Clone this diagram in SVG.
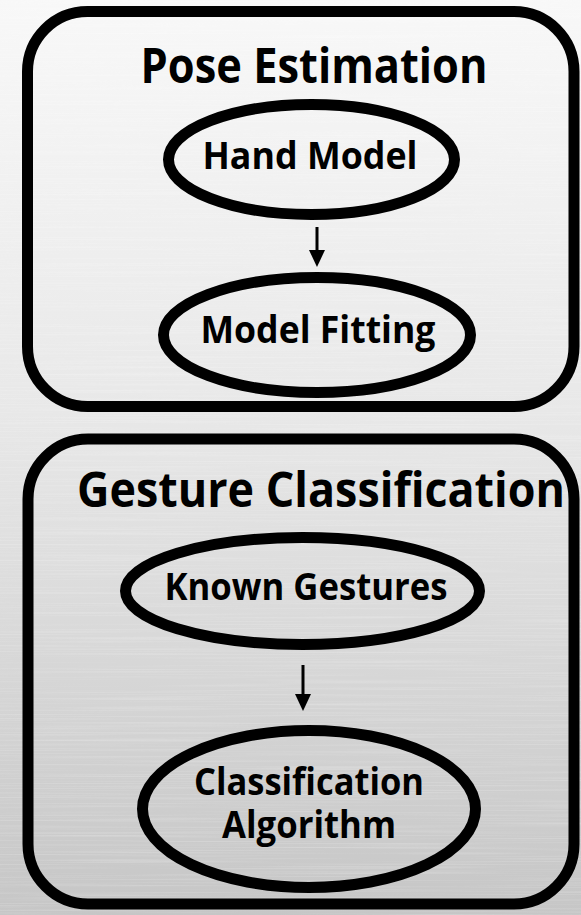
<svg xmlns="http://www.w3.org/2000/svg" width="581" height="915" viewBox="0 0 581 915">
  <defs>
    <linearGradient id="bg" x1="0" y1="0" x2="0" y2="1">
      <stop offset="0" stop-color="#f8f8f8"/>
      <stop offset="0.45" stop-color="#e8e8e8"/>
      <stop offset="1" stop-color="#c6c6c6"/>
    </linearGradient>
    <filter id="brush" x="0" y="0" width="100%" height="100%">
      <feTurbulence type="fractalNoise" baseFrequency="0.004 0.7" numOctaves="2" seed="3" result="n"/>
      <feColorMatrix type="matrix" values="0 0 0 0 1  0 0 0 0 1  0 0 0 0 1  0.9 0 0 0 -0.42"/>
    </filter>
    <style>
      .box { fill: none; stroke: #000; stroke-width: 11; }
      .node { fill: none; stroke: #000; stroke-width: 11; }
      .title { font-family: "Open Sans", "Liberation Sans", sans-serif; font-weight: 700; font-size: 49px; fill: #000; text-anchor: middle; }
      .label { font-family: "Open Sans", "Liberation Sans", sans-serif; font-weight: 700; font-size: 37px; fill: #000; text-anchor: middle; }
      .edge { stroke: #000; stroke-width: 3; fill: none; }
      .head { fill: #000; stroke: none; }
    </style>
  </defs>

  <rect x="0" y="0" width="581" height="915" fill="url(#bg)"/>
  <rect x="0" y="0" width="581" height="915" filter="url(#brush)" opacity="0.6"/>

  <g id="pose-estimation">
    <rect class="box" x="27.5" y="11.5" width="546.5" height="395" rx="60" ry="60"/>
    <text class="title" x="314" y="83" textLength="347" lengthAdjust="spacingAndGlyphs">Pose Estimation</text>
  </g>
  <g id="hand-model">
    <ellipse class="node" cx="311.5" cy="159.5" rx="143" ry="55"/>
    <text class="label" x="310" y="169" textLength="215" lengthAdjust="spacingAndGlyphs">Hand Model</text>
  </g>
  <g id="model-fitting">
    <ellipse class="node" cx="317" cy="335" rx="153.5" ry="57.5"/>
    <text class="label" x="318" y="343" textLength="235" lengthAdjust="spacingAndGlyphs">Model Fitting</text>
  </g>

  <g id="gesture-classification">
    <rect class="box" x="28" y="439" width="546" height="465" rx="60" ry="60"/>
    <text class="title" x="321" y="507" textLength="488" lengthAdjust="spacingAndGlyphs">Gesture Classification</text>
  </g>
  <g id="known-gestures">
    <ellipse class="node" cx="302.5" cy="591" rx="177" ry="53.5"/>
    <text class="label" x="306" y="600" textLength="283" lengthAdjust="spacingAndGlyphs">Known Gestures</text>
  </g>
  <g id="classification-algorithm">
    <ellipse class="node" cx="309" cy="809" rx="166.5" ry="78.5"/>
    <text class="label" x="309" y="795" textLength="230" lengthAdjust="spacingAndGlyphs">Classification</text>
    <text class="label" x="309" y="838" textLength="174" lengthAdjust="spacingAndGlyphs">Algorithm</text>
  </g>

  <g id="connectors">
    <line class="edge" x1="317" y1="227" x2="317" y2="252"/>
    <path class="head" d="M309,250 L325,250 L317,267 Z"/>
    <line class="edge" x1="303" y1="665" x2="303" y2="696"/>
    <path class="head" d="M295,694 L311,694 L303,711 Z"/>
  </g>
</svg>
